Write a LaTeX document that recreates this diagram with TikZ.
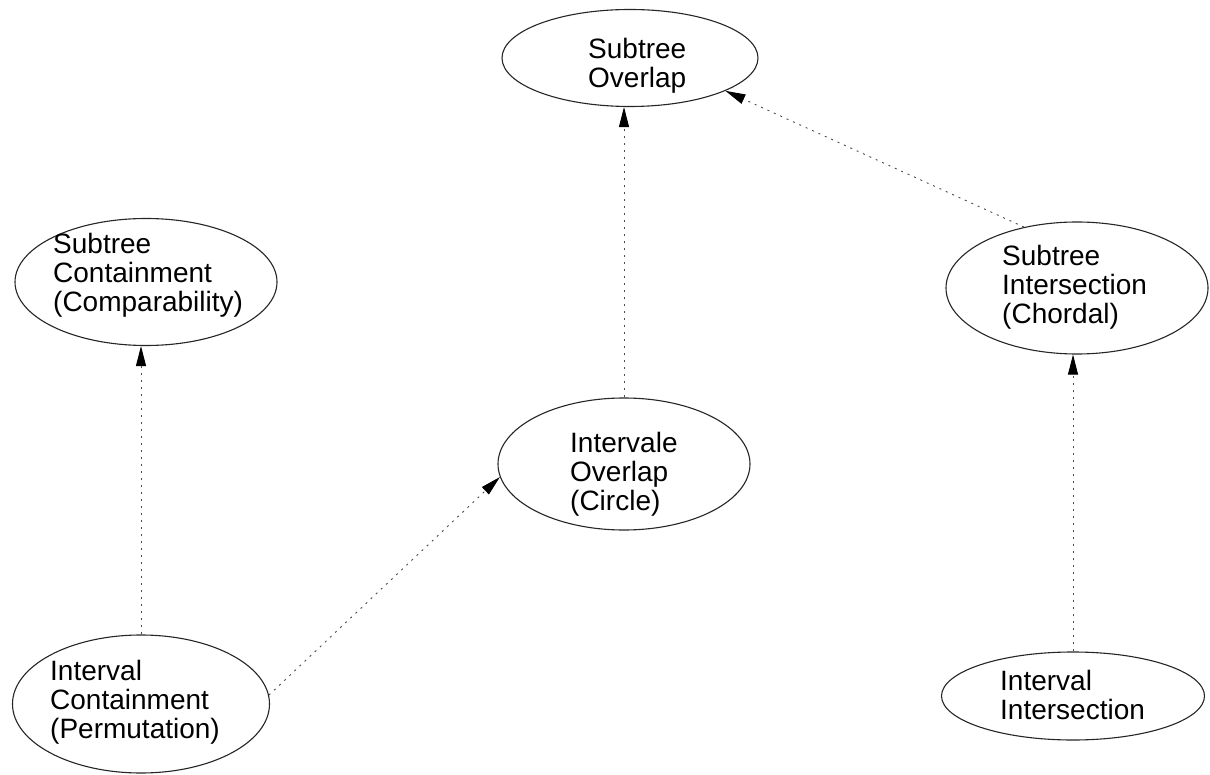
\documentclass[tikz,border=0pt]{standalone}
\usepackage{fontspec}
\setmainfont{Liberation Sans}
\usetikzlibrary{arrows.meta,shapes.geometric}
\tikzset{
  ell/.style={draw=black!85, line width=1.1pt, ellipse, inner sep=0pt},
  lbl/.style={anchor=north west, align=left, inner sep=0pt, font=\fontsize{28}{29}\selectfont},
  conn/.style={draw=black!70, line width=0.9pt, dash pattern=on 2pt off 5pt,
    -{Triangle[length=20pt,width=10pt,color=black]}}
}
\begin{document}
\begin{tikzpicture}[x=1pt,y=-1pt]
\useasboundingbox[fill=white] (0,0) rectangle (1210,775);
% ellipses
\node[ell, minimum width=256, minimum height=97] (so) at (630,58) {};
\node[ell, minimum width=262, minimum height=127] (sc) at (146,282) {};
\node[ell, minimum width=262, minimum height=132] (si) at (1077,288) {};
\node[ell, minimum width=252, minimum height=132] (io) at (624,464) {};
\node[ell, minimum width=257, minimum height=138] (ic) at (141,704) {};
\node[ell, minimum width=263, minimum height=88] (ii) at (1073,696) {};
% labels
\node[lbl] (sot) at (588,38) {Subtree\\Overlap};
\node[lbl] (sct) at (53,233) {Subtree\\Containment\\(Comparability)};
\node[lbl] (sit) at (1002,245) {Subtree\\Intersection\\(Chordal)};
\node[lbl] (iot) at (570,432) {Intervale\\Overlap\\(Circle)};
\node[lbl] (ict) at (50,660) {Interval\\Containment\\(Permutation)};
\node[lbl] (iit) at (1000,670) {Interval\\Intersection};
% connectors
\draw[conn] (ic.north) -- (ic.north |- sc.south);
\draw[conn] (io.north) -- (io.north |- so.south);
\draw[conn] (ii.north) -- (ii.north |- si.south);
\draw[conn] (ic.4) -- (io.186);
\draw[conn] (si.131) -- (so.-19);
\end{tikzpicture}
\end{document}
